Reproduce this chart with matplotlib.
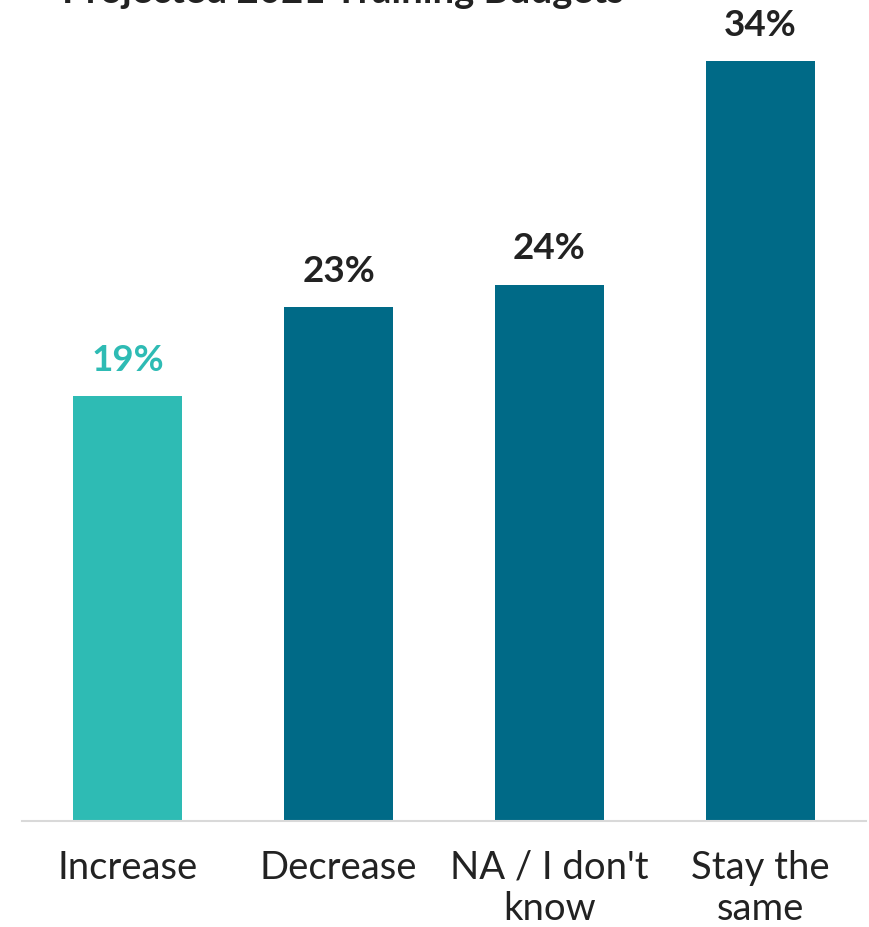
import matplotlib.pyplot as plt

categories = ['Increase', 'Decrease', "NA / I don't\nknow", 'Stay the\nsame']
values = [19, 23, 24, 34]
bar_colors = ['#2EBBB4', '#006A87', '#006A87', '#006A87']
label_colors = ['#2EBBB4', '#222222', '#222222', '#222222']

plt.rcParams['font.family'] = ['Lato', 'DejaVu Sans']

fig = plt.figure(figsize=(8.69, 9.28), dpi=100)
ax = fig.add_axes([22/869, 1 - 822/928, 844/869, 822/928])

x = range(len(categories))
ax.bar(x, values, width=0.52, color=bar_colors)
for i, v in enumerate(values):
    ax.text(i, v + 0.9, f'{v}%', ha='center', va='bottom', fontsize=26.5,
            fontweight='bold', color=label_colors[i])

ax.set_xlim(-0.5, 3.5)
ax.set_ylim(0, 822/22.35)
ax.set_xticks(list(x))
ax.set_xticklabels(categories, fontsize=27.5, fontweight='normal', color='#222222',
                   linespacing=1.18)
ax.tick_params(axis='x', length=0, pad=20)
ax.set_yticks([])
for s in ['top', 'right', 'left']:
    ax.spines[s].set_visible(False)
ax.spines['bottom'].set_color('#d9d9d9')
ax.spines['bottom'].set_linewidth(1.5)

# title sits mostly above the top edge, as in the original
fig.text(62/869, 1 - 3/928, 'Projected 2021 Training Budgets', ha='left', va='baseline',
         fontsize=27.5, fontweight='bold', color='#222222')

fig.savefig('out.png', dpi=100)
